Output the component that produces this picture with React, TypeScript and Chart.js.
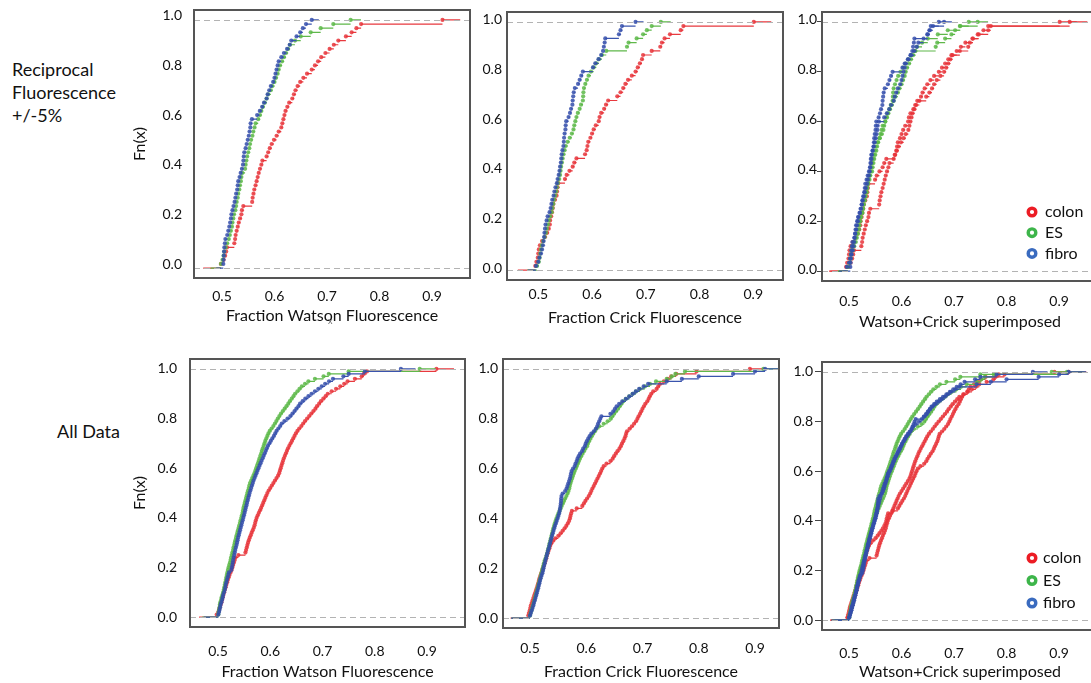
import React, { useEffect, useRef } from 'react';
import { Chart, registerables } from 'chart.js';

Chart.register(...registerables);

// ---------- data (sorted sample values) ----------
const seriesNames = ['colon', 'ES', 'fibro'];
const xTicks = [0.5, 0.6, 0.7, 0.8, 0.9];
const yTicks = [0, 0.2, 0.4, 0.6, 0.8, 1.0];
const xTitles = ['Fraction Watson Fluorescence', 'Fraction Crick Fluorescence', 'Watson+Crick superimposed'];
const yTitle = 'Fn(x)';
const rowLabels = ['Reciprocal\nFluorescence\n+/-5%', 'All Data'];

// Reciprocal fluorescence +/-5%
const watsonColonTop = [
  0.498, 0.503, 0.506, 0.508, 0.5095, 0.5235, 0.525, 0.526, 0.528, 0.53,
  0.532, 0.5345, 0.537, 0.538, 0.5406, 0.5575, 0.5584, 0.56, 0.5616, 0.564,
  0.566, 0.568, 0.57, 0.5724, 0.575, 0.577, 0.585, 0.588, 0.591, 0.5946,
  0.599, 0.604, 0.608, 0.613, 0.615, 0.617, 0.619, 0.621, 0.6245, 0.628,
  0.634, 0.637, 0.64, 0.644, 0.649, 0.655, 0.662, 0.671, 0.677, 0.683,
  0.689, 0.697, 0.705, 0.713, 0.7216, 0.736, 0.747, 0.756, 0.765, 0.92,
];
const watsonESTop = [
  0.498, 0.501, 0.503, 0.5044, 0.507, 0.51, 0.513, 0.515, 0.517, 0.519,
  0.52, 0.5216, 0.523, 0.5255, 0.527, 0.528, 0.53, 0.531, 0.533, 0.5343,
  0.536, 0.537, 0.5387, 0.544, 0.545, 0.5465, 0.548, 0.55, 0.552, 0.5535,
  0.5555, 0.558, 0.5597, 0.562, 0.564, 0.569, 0.5724, 0.575, 0.578, 0.5815,
  0.585, 0.588, 0.593, 0.596, 0.6, 0.603, 0.606, 0.608, 0.6105, 0.6145,
  0.618, 0.622, 0.626, 0.6295, 0.639, 0.65, 0.669, 0.688, 0.712, 0.745,
];
const watsonFibroTop = [
  0.5025, 0.503, 0.5035, 0.504, 0.5045, 0.5055, 0.5065, 0.51, 0.512, 0.514,
  0.5155, 0.517, 0.518, 0.52, 0.522, 0.524, 0.5255, 0.527, 0.529, 0.53,
  0.531, 0.5335, 0.5356, 0.538, 0.54, 0.5408, 0.5415, 0.5425, 0.545, 0.547,
  0.549, 0.551, 0.5525, 0.554, 0.5546, 0.557, 0.567, 0.572, 0.5765, 0.58,
  0.585, 0.587, 0.59, 0.593, 0.5975, 0.6, 0.602, 0.604, 0.606, 0.608,
  0.613, 0.618, 0.624, 0.629, 0.632, 0.642, 0.649, 0.654, 0.66, 0.671,
];
const crickColonTop = [
  0.4945, 0.4965, 0.499, 0.5, 0.501, 0.503, 0.507, 0.5124, 0.5165, 0.5195,
  0.5215, 0.522, 0.524, 0.5255, 0.527, 0.528, 0.531, 0.534, 0.535, 0.536,
  0.537, 0.5496, 0.5527, 0.558, 0.564, 0.567, 0.571, 0.587, 0.59, 0.5915,
  0.593, 0.597, 0.6, 0.603, 0.607, 0.6125, 0.614, 0.617, 0.6225, 0.626,
  0.63, 0.647, 0.653, 0.658, 0.662, 0.667, 0.674, 0.681, 0.685, 0.689,
  0.693, 0.695, 0.711, 0.727, 0.73, 0.735, 0.745, 0.765, 0.77, 0.901,
];
const crickESTop = [
  0.4975, 0.501, 0.5025, 0.5037, 0.505, 0.5065, 0.509, 0.512, 0.5145, 0.516,
  0.518, 0.5195, 0.522, 0.525, 0.5265, 0.528, 0.5295, 0.5315, 0.5335, 0.535,
  0.5365, 0.539, 0.5405, 0.5415, 0.5425, 0.544, 0.5453, 0.547, 0.549, 0.551,
  0.5546, 0.5585, 0.5625, 0.5655, 0.567, 0.569, 0.571, 0.5735, 0.577, 0.5795,
  0.583, 0.5835, 0.584, 0.585, 0.5875, 0.5905, 0.5935, 0.598, 0.603, 0.608,
  0.613, 0.6185, 0.6265, 0.665, 0.668, 0.683, 0.695, 0.702, 0.711, 0.728,
];
const crickFibroTop = [
  0.4957, 0.5, 0.502, 0.505, 0.507, 0.5087, 0.51, 0.5108, 0.5115, 0.5125,
  0.5135, 0.5155, 0.5174, 0.521, 0.523, 0.5245, 0.526, 0.5285, 0.53, 0.532,
  0.5345, 0.536, 0.538, 0.5395, 0.5405, 0.542, 0.5428, 0.5436, 0.545, 0.5468,
  0.5475, 0.548, 0.549, 0.5505, 0.551, 0.552, 0.5564, 0.559, 0.561, 0.5635,
  0.564, 0.565, 0.566, 0.568, 0.574, 0.577, 0.58, 0.583, 0.6017, 0.606,
  0.612, 0.617, 0.6205, 0.622, 0.6235, 0.6246, 0.65, 0.653, 0.6557, 0.681,
];

// All data
const watsonColonAll = [
  0.4975, 0.5006, 0.502, 0.5035, 0.505, 0.5065, 0.5078, 0.509, 0.5103, 0.5117,
  0.513, 0.5145, 0.516, 0.5175, 0.519, 0.5205, 0.522, 0.524, 0.526, 0.5275,
  0.529, 0.5305, 0.532, 0.5335, 0.539, 0.5525, 0.5537, 0.555, 0.5562, 0.5575,
  0.559, 0.5608, 0.5627, 0.5645, 0.5665, 0.5685, 0.57, 0.5712, 0.5725, 0.574,
  0.576, 0.5782, 0.5805, 0.5825, 0.5845, 0.5865, 0.5885, 0.5905, 0.5925, 0.5945,
  0.597, 0.6, 0.603, 0.606, 0.609, 0.612, 0.615, 0.617, 0.6185, 0.62,
  0.6215, 0.623, 0.6245, 0.626, 0.628, 0.63, 0.632, 0.634, 0.6365, 0.639,
  0.6415, 0.644, 0.6465, 0.649, 0.652, 0.6555, 0.6595, 0.663, 0.6665, 0.6705,
  0.6745, 0.6785, 0.6825, 0.6865, 0.6895, 0.6935, 0.697, 0.7015, 0.706, 0.71,
  0.7175, 0.726, 0.734, 0.7415, 0.748, 0.762, 0.775, 0.779, 0.785, 0.918,
];
const watsonESAll = [
  0.5006, 0.501, 0.502, 0.503, 0.5035, 0.5045, 0.506, 0.507, 0.5085, 0.5098,
  0.511, 0.512, 0.513, 0.514, 0.515, 0.516, 0.5168, 0.518, 0.519, 0.5202,
  0.5215, 0.523, 0.524, 0.525, 0.5262, 0.5275, 0.5288, 0.5297, 0.531, 0.532,
  0.5333, 0.5345, 0.5357, 0.537, 0.5382, 0.5395, 0.5407, 0.542, 0.5432, 0.5445,
  0.5457, 0.547, 0.548, 0.5487, 0.55, 0.5512, 0.5525, 0.5537, 0.555, 0.556,
  0.5575, 0.5588, 0.56, 0.5612, 0.5635, 0.5655, 0.5677, 0.5698, 0.5715, 0.573,
  0.5748, 0.5765, 0.578, 0.5795, 0.581, 0.5828, 0.584, 0.5857, 0.5875, 0.589,
  0.5905, 0.5925, 0.5945, 0.5965, 0.599, 0.6025, 0.606, 0.609, 0.6117, 0.6145,
  0.6175, 0.6205, 0.624, 0.6275, 0.631, 0.6345, 0.6375, 0.641, 0.6445, 0.6475,
  0.652, 0.656, 0.6605, 0.6665, 0.673, 0.6855, 0.702, 0.712, 0.75, 0.886,
];
const watsonFibroAll = [
  0.5006, 0.502, 0.503, 0.504, 0.505, 0.5065, 0.508, 0.509, 0.51, 0.5115,
  0.513, 0.514, 0.5148, 0.516, 0.5172, 0.5185, 0.5198, 0.521, 0.5255, 0.5265,
  0.5275, 0.5283, 0.529, 0.53, 0.531, 0.532, 0.533, 0.5342, 0.5355, 0.5365,
  0.5375, 0.5385, 0.5398, 0.541, 0.5422, 0.5435, 0.5447, 0.546, 0.5472, 0.5485,
  0.5497, 0.551, 0.552, 0.5532, 0.5545, 0.5556, 0.5568, 0.558, 0.5593, 0.5605,
  0.562, 0.5635, 0.565, 0.5666, 0.568, 0.57, 0.5718, 0.5737, 0.5756, 0.5775,
  0.5795, 0.5815, 0.5835, 0.5855, 0.5875, 0.5895, 0.5915, 0.5935, 0.5955, 0.5985,
  0.601, 0.604, 0.607, 0.6095, 0.612, 0.6155, 0.619, 0.622, 0.627, 0.633,
  0.6385, 0.6425, 0.6465, 0.65, 0.654, 0.657, 0.662, 0.667, 0.673, 0.679,
  0.6855, 0.692, 0.6985, 0.705, 0.7125, 0.72, 0.74, 0.75, 0.781, 0.85,
];
const crickColonAll = [
  0.497, 0.498, 0.4995, 0.5005, 0.5015, 0.503, 0.5045, 0.506, 0.5075, 0.509,
  0.5105, 0.512, 0.5133, 0.5146, 0.5158, 0.517, 0.5185, 0.52, 0.5215, 0.523,
  0.5245, 0.526, 0.5275, 0.5288, 0.53, 0.5315, 0.533, 0.5345, 0.536, 0.538,
  0.541, 0.545, 0.5504, 0.5545, 0.558, 0.5615, 0.5645, 0.5672, 0.5695, 0.571,
  0.572, 0.5732, 0.5745, 0.583, 0.593, 0.5958, 0.5985, 0.6015, 0.6045, 0.607,
  0.609, 0.611, 0.6133, 0.6156, 0.6178, 0.62, 0.6222, 0.6245, 0.6265, 0.6285,
  0.631, 0.636, 0.643, 0.647, 0.6495, 0.6525, 0.6555, 0.659, 0.6615, 0.6635,
  0.6658, 0.668, 0.6697, 0.671, 0.6725, 0.677, 0.6812, 0.685, 0.6885, 0.691,
  0.693, 0.6956, 0.6978, 0.7, 0.7025, 0.705, 0.7085, 0.711, 0.713, 0.7155,
  0.719, 0.725, 0.728, 0.731, 0.738, 0.745, 0.751, 0.76, 0.796, 0.891,
];
const crickESAll = [
  0.5, 0.501, 0.5025, 0.5037, 0.505, 0.5062, 0.5075, 0.5087, 0.5098, 0.511,
  0.5122, 0.5133, 0.5145, 0.5156, 0.5168, 0.518, 0.5192, 0.5203, 0.5215, 0.5226,
  0.5237, 0.5248, 0.526, 0.5278, 0.5293, 0.5305, 0.5316, 0.5327, 0.5338, 0.5349,
  0.536, 0.5371, 0.5382, 0.5393, 0.5404, 0.5415, 0.5428, 0.544, 0.5455, 0.547,
  0.5488, 0.5505, 0.5525, 0.5545, 0.5564, 0.5585, 0.5605, 0.5625, 0.5647, 0.5668,
  0.5685, 0.5698, 0.5707, 0.5718, 0.5733, 0.5748, 0.5763, 0.5778, 0.5795, 0.5815,
  0.5833, 0.5852, 0.587, 0.5888, 0.591, 0.5935, 0.596, 0.5985, 0.6015, 0.603,
  0.605, 0.6075, 0.6098, 0.6125, 0.6155, 0.618, 0.6235, 0.631, 0.638, 0.6435,
  0.6465, 0.6495, 0.653, 0.6565, 0.6595, 0.6625, 0.666, 0.6705, 0.6765, 0.6825,
  0.6885, 0.6956, 0.7045, 0.7133, 0.724, 0.743, 0.752, 0.7585, 0.7756, 0.915,
];
const crickFibroAll = [
  0.5, 0.5015, 0.503, 0.5045, 0.506, 0.507, 0.5085, 0.5097, 0.511, 0.512,
  0.5133, 0.5145, 0.5156, 0.5167, 0.5178, 0.519, 0.5205, 0.522, 0.5232, 0.524,
  0.5251, 0.5262, 0.5273, 0.5285, 0.5296, 0.5308, 0.532, 0.5333, 0.5345, 0.5356,
  0.5368, 0.538, 0.5392, 0.5405, 0.5418, 0.543, 0.5444, 0.546, 0.5475, 0.549,
  0.5505, 0.5518, 0.5528, 0.5535, 0.5542, 0.5548, 0.5552, 0.5556, 0.556, 0.558,
  0.5625, 0.565, 0.5665, 0.568, 0.5695, 0.571, 0.572, 0.573, 0.574, 0.5765,
  0.5795, 0.581, 0.583, 0.5845, 0.5865, 0.589, 0.5925, 0.5945, 0.5975, 0.599,
  0.601, 0.6035, 0.606, 0.609, 0.6135, 0.617, 0.6195, 0.621, 0.623, 0.625,
  0.627, 0.643, 0.648, 0.651, 0.654, 0.6585, 0.664, 0.6705, 0.6765, 0.6825,
  0.688, 0.694, 0.702, 0.71, 0.743, 0.77, 0.8, 0.861, 0.9, 0.918,
];

// ---------- styles ----------
const FONT = 'Lato, "Noto Sans", sans-serif';
const lineColors = ['#e8393e', '#5fb84a', '#3a54ad'];
const pointColors = ['rgba(232,52,58,0.85)', 'rgba(92,184,72,0.85)', 'rgba(52,78,172,0.85)'];
const ringColors = ['#ec1c24', '#3db54a', '#3a6bbf'];
const TEXT = '#111';

const YW = 70;
const PT = 6;
const PR = 6;
const XH = 56;

type Legend = { x: number; y: number; dy: number; tx: number };
type PanelSpec = {
  id: string;
  l: number; t: number; w: number; h: number;
  xMin: number; xMax: number;
  groups: number[][][];
  xTitle: string;
  yTitle: boolean;
  yTitlePad: number;
  xTickPad: number;
  xTitlePad: number;
  yTickLen: number;
  yTickPad: number;
  yLabelOffset: number;
  legend: Legend | null;
};

const topWatson = [watsonColonTop, watsonESTop, watsonFibroTop];
const topCrick = [crickColonTop, crickESTop, crickFibroTop];
const allWatson = [watsonColonAll, watsonESAll, watsonFibroAll];
const allCrick = [crickColonAll, crickESAll, crickFibroAll];

const panels: PanelSpec[] = [
  { id: 'p1', l: 194, t: 10, w: 276, h: 268, xMin: 0.4467, xMax: 0.9724, groups: [topWatson], xTitle: xTitles[0], yTitle: true, yTitlePad: 6, xTickPad: 10.3, xTitlePad: 8.4, yTickLen: 0, yTickPad: 12, yLabelOffset: -4, legend: null },
  { id: 'p2', l: 507, t: 12, w: 276, h: 268, xMin: 0.4418, xMax: 0.9553, groups: [topCrick], xTitle: xTitles[1], yTitle: false, yTitlePad: 0, xTickPad: 6.5, xTitlePad: 8.4, yTickLen: 0, yTickPad: 5, yLabelOffset: -2, legend: null },
  { id: 'p3', l: 822, t: 12, w: 276, h: 269, xMin: 0.4486, xMax: 0.974, groups: [topWatson, topCrick], xTitle: xTitles[2], yTitle: false, yTitlePad: 0, xTickPad: 12.4, xTitlePad: 5.7, yTickLen: 5, yTickPad: 0, yLabelOffset: -2, legend: { x: 210, y: 200, dy: 20.7, tx: 223 } },
  { id: 'p4', l: 190, t: 359, w: 275, h: 268, xMin: 0.4464, xMax: 0.9727, groups: [allWatson], xTitle: xTitles[0], yTitle: true, yTitlePad: 10, xTickPad: 16.4, xTitlePad: 1.7, yTickLen: 0, yTickPad: 13, yLabelOffset: 0, legend: null },
  { id: 'p5', l: 503, t: 359, w: 276, h: 269, xMin: 0.452, xMax: 0.9427, groups: [allCrick], xTitle: xTitles[1], yTitle: false, yTitlePad: 0, xTickPad: 11.9, xTitlePad: 2.7, yTickLen: 0, yTickPad: 5, yLabelOffset: 0, legend: null },
  { id: 'p6', l: 822, t: 362, w: 276, h: 268, xMin: 0.4486, xMax: 0.974, groups: [allWatson, allCrick], xTitle: xTitles[2], yTitle: false, yTitlePad: 0, xTickPad: 14.9, xTitlePad: 4.7, yTickLen: 7, yTickPad: 2, yLabelOffset: 0, legend: { x: 210, y: 196, dy: 22.5, tx: 221 } },
];

// ECDF helpers: horizontal steps (no verticals), as in R's plot.ecdf
function ecdfSegments(values: number[]) {
  const n = values.length;
  const dr = 0.08 * (values[n - 1] - values[0]);
  const pts: { x: number; y: number | null }[] = [
    { x: values[0] - dr, y: 0 },
    { x: values[0], y: 0 },
  ];
  for (let i = 0; i < n; i++) {
    const f = (i + 1) / n;
    const xEnd = i < n - 1 ? values[i + 1] : values[n - 1] + dr;
    pts.push({ x: values[i], y: null });
    pts.push({ x: values[i], y: f });
    pts.push({ x: xEnd, y: f });
  }
  return pts;
}
function ecdfPoints(values: number[]) {
  const n = values.length;
  return values.map((v, i) => ({ x: v, y: (i + 1) / n }));
}

const framePlugin = {
  id: 'frame',
  afterDatasetsDraw(chart: any, _args: any, opts: any) {
    const { ctx, chartArea: a, scales } = chart;
    ctx.save();
    ctx.strokeStyle = '#b3b3b3';
    ctx.lineWidth = 1;
    ctx.setLineDash([6, 4]);
    [0, 1].forEach((v) => {
      const y = Math.round(scales.y.getPixelForValue(v)) + 0.5;
      ctx.beginPath();
      ctx.moveTo(a.left, y);
      ctx.lineTo(a.right, y);
      ctx.stroke();
    });
    ctx.setLineDash([]);
    ctx.strokeStyle = '#555';
    ctx.lineWidth = 2;
    ctx.strokeRect(a.left, a.top, a.right - a.left, a.bottom - a.top);
    const lg = opts && opts.legend;
    if (lg) {
      ctx.font = `16px ${FONT}`;
      ctx.textBaseline = 'middle';
      ctx.textAlign = 'left';
      seriesNames.forEach((name, i) => {
        const cy = a.top + lg.y + i * lg.dy;
        const cx = a.left + lg.x;
        ctx.beginPath();
        ctx.arc(cx, cy, 3.8, 0, Math.PI * 2);
        ctx.lineWidth = 3.4;
        ctx.strokeStyle = ringColors[i];
        ctx.stroke();
        ctx.fillStyle = TEXT;
        ctx.fillText(name, a.left + lg.tx, cy);
      });
    }
    ctx.restore();
  },
};

function EcdfPanel({ spec }: { spec: PanelSpec }) {
  const ref = useRef<HTMLCanvasElement | null>(null);
  const cw = YW + spec.w + PR;
  const ch = PT + spec.h + XH;

  useEffect(() => {
    const canvas = ref.current;
    if (!canvas) return;
    const datasets: any[] = [];
    spec.groups.forEach((group) =>
      group.forEach((vals, si) => {
        const base = (3 - si) * 10;
        datasets.push({
          label: seriesNames[si],
          data: ecdfSegments(vals),
          showLine: true,
          borderColor: lineColors[si],
          backgroundColor: lineColors[si],
          borderWidth: 1.2,
          pointRadius: 0,
          pointHoverRadius: 0,
          spanGaps: false,
          order: base + 1,
        });
        datasets.push({
          label: seriesNames[si],
          data: ecdfPoints(vals),
          showLine: false,
          backgroundColor: pointColors[si],
          borderWidth: 0,
          pointRadius: 2.1,
          pointHoverRadius: 2.1,
          order: base,
        });
      })
    );

    const chart = new Chart(canvas, {
      type: 'scatter',
      data: { datasets },
      plugins: [framePlugin],
      options: {
        animation: false,
        responsive: false,
        maintainAspectRatio: false,
        devicePixelRatio: 1,
        events: [],
        layout: { padding: { top: PT, right: PR, left: 0, bottom: 0 } },
        plugins: {
          legend: { display: false },
          tooltip: { enabled: false },
          frame: { legend: spec.legend },
        } as any,
        scales: {
          x: {
            type: 'linear',
            min: spec.xMin,
            max: spec.xMax,
            afterBuildTicks: (s: any) => {
              s.ticks = xTicks.map((v) => ({ value: v }));
            },
            afterFit: (s: any) => {
              s.height = XH;
              s.paddingLeft = 0;
              s.paddingRight = 0;
              s.paddingTop = 0;
              s.paddingBottom = 0;
            },
            grid: { display: false, drawTicks: false },
            border: { display: false },
            ticks: {
              padding: spec.xTickPad,
              maxRotation: 0,
              autoSkip: false,
              color: TEXT,
              font: { family: FONT, size: 14 },
              callback: (v: any) => Number(v).toFixed(1),
            },
            title: {
              display: true,
              text: spec.xTitle,
              color: TEXT,
              font: { family: FONT, size: 16 },
              padding: { top: 0, bottom: spec.xTitlePad },
            },
          },
          y: {
            type: 'linear',
            min: -0.04,
            max: 1.04,
            afterBuildTicks: (s: any) => {
              s.ticks = yTicks.map((v) => ({ value: v }));
            },
            afterFit: (s: any) => {
              s.width = YW;
              s.paddingLeft = 0;
              s.paddingRight = 0;
              s.paddingTop = 0;
              s.paddingBottom = 0;
            },
            grid: {
              display: spec.yTickLen > 0,
              drawOnChartArea: false,
              drawTicks: spec.yTickLen > 0,
              tickLength: spec.yTickLen,
              color: '#444',
              lineWidth: 1,
            },
            border: { display: false },
            ticks: {
              padding: spec.yTickPad,
              labelOffset: spec.yLabelOffset,
              autoSkip: false,
              color: TEXT,
              font: { family: FONT, size: 14 },
              callback: (v: any) => Number(v).toFixed(1),
            },
            title: {
              display: spec.yTitle,
              text: yTitle,
              color: TEXT,
              font: { family: FONT, size: 16 },
              padding: { top: spec.yTitlePad, bottom: 0 },
            },
          },
        },
      } as any,
    });
    return () => chart.destroy();
  }, [spec]);

  return (
    <canvas
      ref={ref}
      width={cw}
      height={ch}
      style={{ position: 'absolute', left: spec.l - YW, top: spec.t - PT, width: cw, height: ch }}
    />
  );
}

export default function App() {
  return (
    <div
      style={{
        position: 'fixed',
        left: 0,
        top: 0,
        width: 1091,
        height: 683,
        overflow: 'hidden',
        background: '#fff',
        fontFamily: FONT,
        color: TEXT,
      }}
    >
      {panels.map((p) => (
        <EcdfPanel key={p.id} spec={p} />
      ))}
      <div style={{ position: 'absolute', left: 12, top: 58, fontSize: 18, lineHeight: '23px', whiteSpace: 'pre' }}>
        {rowLabels[0]}
      </div>
      <div style={{ position: 'absolute', left: 57, top: 420, fontSize: 18, lineHeight: '23px', whiteSpace: 'pre' }}>
        {rowLabels[1]}
      </div>
      <div style={{ position: 'absolute', left: 328, top: 316, fontSize: 9, lineHeight: '10px', color: '#666' }}>x</div>
    </div>
  );
}
